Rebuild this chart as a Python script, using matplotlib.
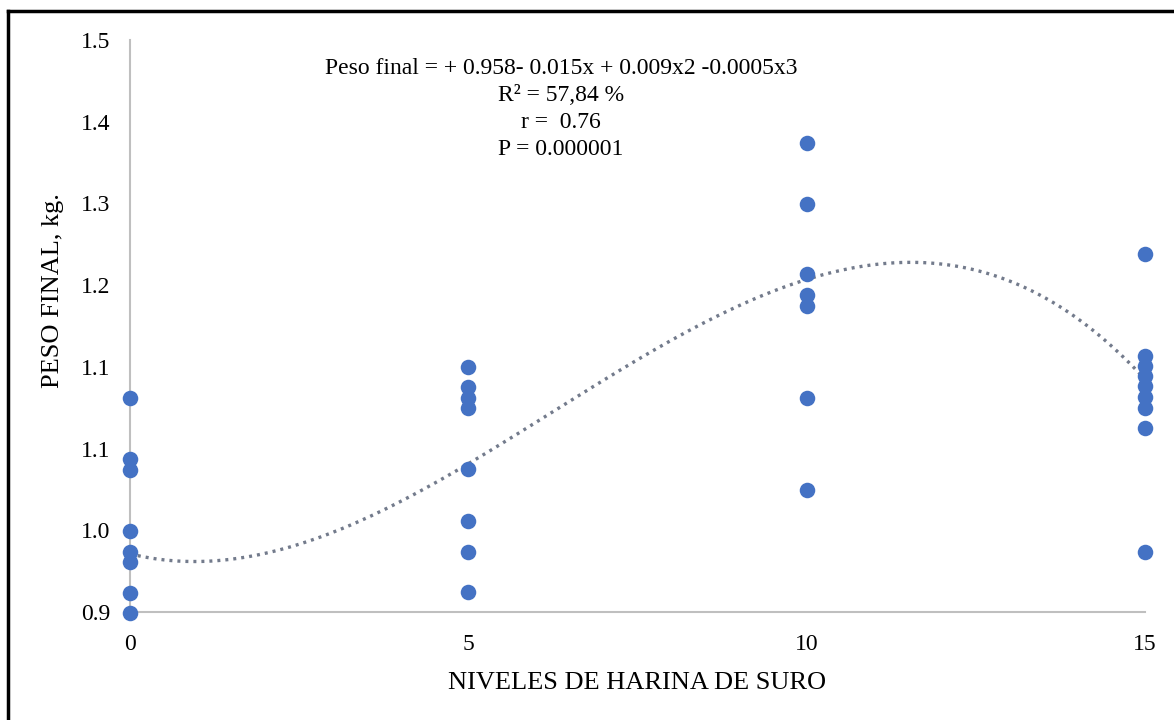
import numpy as np
import matplotlib
matplotlib.use("Agg")
import matplotlib.pyplot as plt
from matplotlib.lines import Line2D

# ---- data ----
x_levels = [0, 5, 10, 15]
peso_0 = [1.1245, 1.0605, 1.049, 0.985, 0.963, 0.9525, 0.920, 0.899]
peso_5 = [1.157, 1.136, 1.1245, 1.114, 1.050, 0.9955, 0.963, 0.921]
peso_10 = [1.392, 1.328, 1.2545, 1.2325, 1.221, 1.1245, 1.028]
peso_15 = [1.2755, 1.169, 1.158, 1.148, 1.137, 1.1255, 1.114, 1.093, 0.963]

# points
trend_x = [0.15, 0.25, 1.0, 2.96, 3.99, 5.0, 8.42, 9.99, 11.57, 12.27, 13.35, 13.72, 14.82]
trend_y = [0.958, 0.957, 0.954, 0.982, 1.019, 1.052, 1.199, 1.254, 1.265, 1.261, 1.235, 1.222, 1.158]

y_tick_values = list(np.linspace(0.9, 1.5, 8))
y_tick_labels = ["0.9", "1.0", "1.1", "1.1", "1.2", "1.3", "1.4", "1.5"]
x_tick_labels = ["0", "5", "10", "15"]

annotation = ("Peso final = + 0.958- 0.015x + 0.009x2 -0.0005x3\n"
              "R² = 57,84 %\nr =  0.76\nP = 0.000001")

plt.rcParams['font.family'] = ['Liberation Serif', 'DejaVu Serif']

fig = plt.figure(figsize=(11.74, 7.2), dpi=100)
ax = fig.add_axes([130/1174, 108/720, 1015/1174, 572/720])

groups = [peso_0, peso_5, peso_10, peso_15]
for lvl, vals in zip(x_levels, groups):
    ax.scatter([lvl]*len(vals), vals, s=125, color="#4472C4", zorder=3,
               clip_on=False, linewidths=0)

coef = np.polyfit(trend_x, trend_y, 3)
xx = np.linspace(0, 15, 300)
ax.plot(xx, np.polyval(coef, xx), color="#737B8C", lw=2.4,
        linestyle=(0, (0.9, 1.5)), dash_capstyle='butt', zorder=2)

ax.set_xlim(0, 15)
ax.set_ylim(0.9, 1.5)
ax.set_xticks(x_levels)
ax.set_xticklabels(x_tick_labels)
ax.set_yticks(y_tick_values)
ax.set_yticklabels(y_tick_labels)
ax.tick_params(length=0, labelsize=17, colors="black")
ax.tick_params(axis='x', pad=16)
ax.tick_params(axis='y', pad=14)
for s in ["top", "right"]:
    ax.spines[s].set_visible(False)
for s in ["left", "bottom"]:
    ax.spines[s].set_color("#BFBFBF")
    ax.spines[s].set_linewidth(1.5)

ax.set_xlabel("NIVELES DE HARINA DE SURO", fontsize=19, labelpad=12)
ax.set_ylabel("PESO FINAL, kg.", fontsize=19)
ax.yaxis.set_label_coords(-66/1015, (612 - 291) / 572)

fig.text(561/1174, 1 - 109/720, annotation, ha="center", va="center",
         fontsize=17, linespacing=1.39)

# outer frame (left and top edges visible)
fig.add_artist(Line2D([8/1174, 8/1174], [0, 1 - 11/720], color="black", lw=2.5,
                      transform=fig.transFigure))
fig.add_artist(Line2D([8/1174, 1], [1 - 11/720, 1 - 11/720], color="black", lw=2.5,
                      transform=fig.transFigure))

fig.savefig("out.png", dpi=100, facecolor="white")
